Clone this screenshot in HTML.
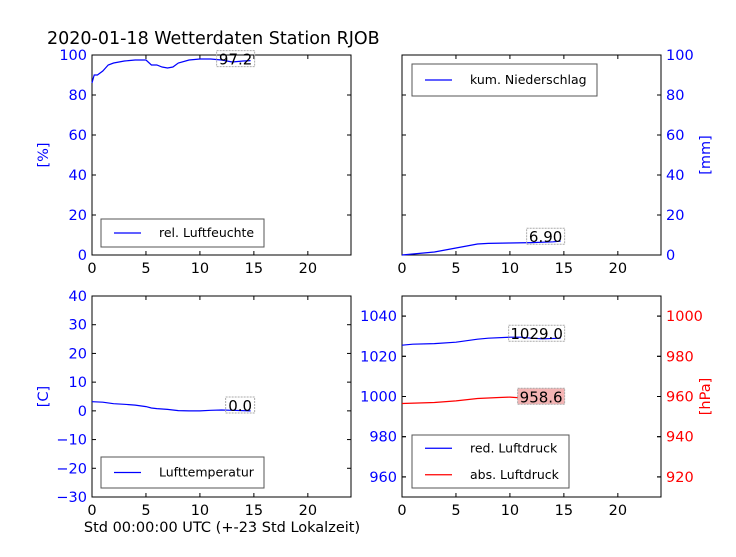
<!DOCTYPE html>
<html><head><meta charset="utf-8"><style>
body{margin:0;background:#fff;width:736px;height:552px;overflow:hidden}
svg{font-family:"DejaVu Sans","Liberation Sans",sans-serif}
</style></head><body>
<svg id="c" width="736" height="552" xmlns="http://www.w3.org/2000/svg">
<text x="47" y="44" font-size="17.5">2020-01-18 Wetterdaten Station RJOB</text>
<text x="222" y="532" text-anchor="middle" font-size="14.5">Std 00:00:00 UTC (+-23 Std Lokalzeit)</text>
</svg>
<script>
const humHours=[0,0.2,0.5,1,1.5,2,3,4,5,5.5,6,6.5,7,7.5,8,9,10,11,12,13,14,14.7];
const humVals=[86,90,90,92,95,96,97,97.5,97.5,95,95,94,93.5,94,96,97.5,98,98,97.5,96.5,97,97.2];
const rainHours=[0,1,2,3,4,5,6,7,8,10,12,14,14.7];
const rainVals=[0,0.5,1,1.5,2.5,3.5,4.5,5.5,5.8,6,6.2,6.6,6.9];
const tempHours=[0,1,2,3,4,5,5.5,6,7,8,9,10,11,12,13,14.7];
const tempVals=[3.2,3,2.5,2.3,2,1.5,1,0.8,0.5,0.1,0,0,0.2,0.3,0.2,0];
const redHours=[0,1,3,5,7,8,10,11,12,13,14.7];
const redVals=[1025.5,1026,1026.3,1027,1028.5,1029,1029.5,1029.5,1029,1028.7,1029];
const absHours=[0,3,5,7,9,10,11,13,14.7];
const absVals=[956.5,957,957.8,959,959.5,959.7,959.3,958.8,958.6];
const xTicks=[0,5,10,15,20];
const svg=document.getElementById('c');const NS='http://www.w3.org/2000/svg';
function mk(t,a,txt){const e=document.createElementNS(NS,t);for(const k in a)e.setAttribute(k,a[k]);if(txt!==undefined)e.textContent=txt;svg.appendChild(e);return e;}
function fmt(t){return t<0?'\u2212'+(-t):String(t);}
function panel(name,x0,y0,w,h,xmin,xmax){
 const p={x0,y0,w,h,sx:v=>x0+(v-xmin)/(xmax-xmin)*w};
 const r=mk('rect',{x:x0,y:y0,width:w,height:h,fill:'none',stroke:'#000','stroke-width':1});
 
 xTicks.forEach(t=>{const X=p.sx(t);
  mk('line',{x1:X,y1:y0+h,x2:X,y2:y0+h-4,stroke:'#000'});mk('line',{x1:X,y1:y0,x2:X,y2:y0+4,stroke:'#000'});
  const tl=mk('text',{x:X,y:y0+h+18,'text-anchor':'middle','font-size':14.5},fmt(t));
  });
 return p;}
function yaxis(p,min,max,ticks,side,color,label){
 const sy=v=>p.y0+p.h-(v-min)/(max-min)*p.h;
 ticks.forEach(t=>{const Y=sy(t);
  mk('line',{x1:p.x0,y1:Y,x2:p.x0+4,y2:Y,stroke:'#000'});mk('line',{x1:p.x0+p.w,y1:Y,x2:p.x0+p.w-4,y2:Y,stroke:'#000'});
  const tl=side==='l'?mk('text',{x:p.x0-5,y:Y+5,'text-anchor':'end','font-size':14.5,fill:color},fmt(t)):mk('text',{x:p.x0+p.w+5,y:Y+5,'font-size':14.5,fill:color},fmt(t));
  });
 if(label){const X=side==='l'?p.x0-44:p.x0+p.w+49;const Y=p.y0+p.h/2;
  const l=mk('text',{x:X,y:Y,'text-anchor':'middle','font-size':14.5,fill:color,transform:`rotate(-90 ${X} ${Y})`},label);
  }
 return sy;}
function line(p,sy,xs,ys,color,name){
 const d=xs.map((x,i)=>(i?'L':'M')+p.sx(x).toFixed(1)+' '+sy(ys[i]).toFixed(1)).join(' ');
 const e=mk('path',{d,fill:'none',stroke:color,'stroke-width':1.2});
 }
function ann(p,sy,x,y,txt,bg){
 const X=p.sx(x),Y=sy(y);const w=txt.length*9+2;
 const r=mk('rect',{x:X-w+4,y:Y-9,width:w,height:16,fill:bg,stroke:'#aaa','stroke-dasharray':'2,1'});
 
 const t=mk('text',{x:X-w/2+4,y:Y+5,'text-anchor':'middle','font-size':15},txt);
 }
function legend(x,y,w,h,items){
 const r=mk('rect',{x,y,width:w,height:h,fill:'#fff',stroke:'#555'});
 
 items.forEach((it,i)=>{const Y=y+h/(items.length)*(i+0.5);
  mk('line',{x1:x+13,y1:Y,x2:x+40,y2:Y,stroke:it[1],'stroke-width':1.2});
  const t=mk('text',{x:x+58,y:Y+4,'font-size':12.5},it[0]);
  });}
let p1=panel('humidity-panel',92,55,259,200,0,24);
let s1=yaxis(p1,0,100,[0,20,40,60,80,100],'l','#00f','[%]');
line(p1,s1,humHours,humVals,'#00f','humidity-line');
ann(p1,s1,humHours[humHours.length-1],humVals[humVals.length-1]+0.5,'97.2','none');
legend(101,219,163,28,[['rel. Luftfeuchte','#00f']]);
let p2=panel('rain-panel',402,55,259,200,0,24);
let s2=yaxis(p2,0,100,[0,20,40,60,80,100],'r','#00f','[mm]');
line(p2,s2,rainHours,rainVals,'#00f','rain-line');
ann(p2,s2,rainHours[rainHours.length-1],rainVals[rainVals.length-1]+2,'6.90','none');
legend(412,64,185,32,[['kum. Niederschlag','#00f']]);
let p3=panel('temperature-panel',92,296,259,201,0,24);
let s3=yaxis(p3,-30,40,[-30,-20,-10,0,10,20,30,40],'l','#00f','[C]');
line(p3,s3,tempHours,tempVals,'#00f','temperature-line');
ann(p3,s3,tempHours[tempHours.length-1],tempVals[tempVals.length-1]+1.7,'0.0','none');
legend(101,457,163,31,[['Lufttemperatur','#00f']]);
let p4=panel('pressure-panel',402,296,259,201,0,24);
let s4=yaxis(p4,950,1050,[960,980,1000,1020,1040],'l','#00f',null);
let s5=yaxis(p4,910,1010,[920,940,960,980,1000],'r','#f00','[hPa]');
line(p4,s4,redHours,redVals,'#00f','red-pressure-line');
line(p4,s5,absHours,absVals,'#f00','abs-pressure-line');
ann(p4,s4,redHours[redHours.length-1],1031,'1029.0','none');
ann(p4,s5,absHours[absHours.length-1],959.6,'958.6','#f4b4b4');
legend(412,435,157,53,[['red. Luftdruck','#00f'],['abs. Luftdruck','#f00']]);
</script>
</body></html>
